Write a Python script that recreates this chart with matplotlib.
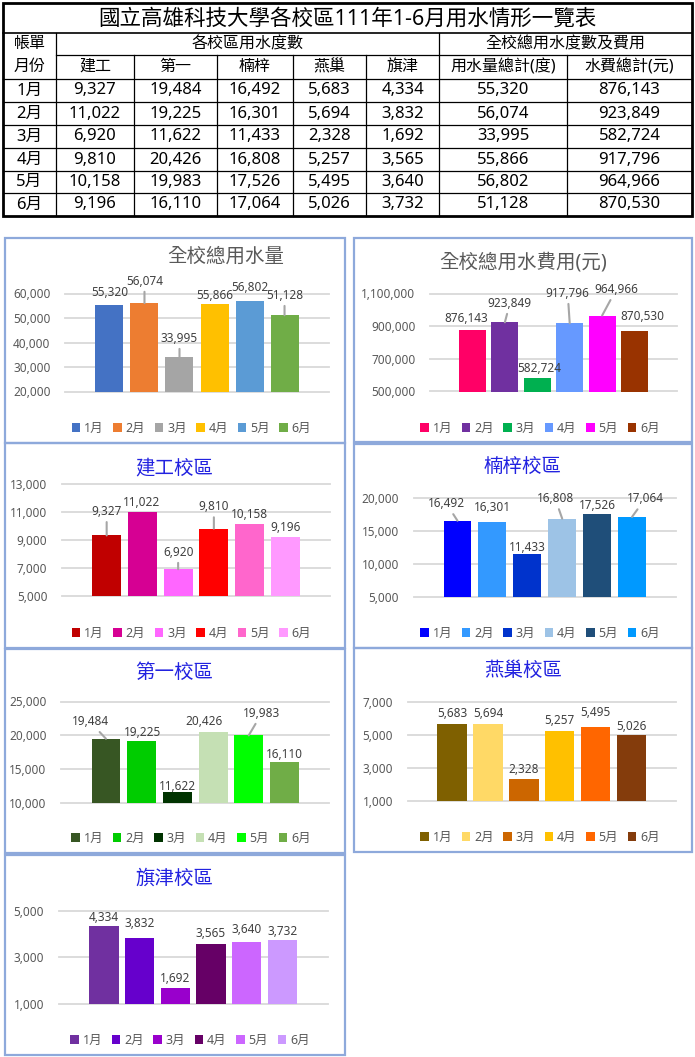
import matplotlib
matplotlib.use('Agg')
import matplotlib.pyplot as plt
from matplotlib.patches import Rectangle
from matplotlib.ticker import FuncFormatter
import numpy as np

plt.rcParams['font.family'] = ['Noto Sans', 'Noto Sans CJK TC', 'DejaVu Sans']

# ---------------- data ----------------
months = ['1月', '2月', '3月', '4月', '5月', '6月']
campuses = ['建工', '第一', '楠梓', '燕巢', '旗津']
jiangong = [9327, 11022, 6920, 9810, 10158, 9196]
diyi = [19484, 19225, 11622, 20426, 19983, 16110]
nanzi = [16492, 16301, 11433, 16808, 17526, 17064]
yanchao = [5683, 5694, 2328, 5257, 5495, 5026]
qijin = [4334, 3832, 1692, 3565, 3640, 3732]
total_water = [55320, 56074, 33995, 55866, 56802, 51128]
total_fee = [876143, 923849, 582724, 917796, 964966, 870530]

table_title = '國立高雄科技大學各校區111年1-6月用水情形一覽表'
hdr_left_top, hdr_left_bot = '帳單', '月份'
hdr_group1 = '各校區用水度數'
hdr_group2 = '全校總用水度數及費用'
hdr_total_water = '用水量總計(度)'
hdr_total_fee = '水費總計(元)'

W, H = 695, 1057
fig = plt.figure(figsize=(W / 100, H / 100), dpi=100)
fig.patch.set_facecolor('white')


def fx(x):
    return x / W


def fy(y):
    return 1 - y / H


# ---------------- table ----------------
bg = fig.add_axes([0, 0, 1, 1])
bg.set_xlim(0, W)
bg.set_ylim(H, 0)
bg.axis('off')

cols = [3, 56, 134, 217, 293, 366, 439, 567, 692]
rows = [3, 33, 55, 79, 102, 125, 148, 171, 193, 216]
lc = 'black'
bg.add_patch(Rectangle((cols[0], rows[0]), cols[-1] - cols[0], rows[-1] - rows[0],
                       fill=False, ec=lc, lw=2))
bg.plot([cols[0], cols[-1]], [rows[1], rows[1]], color=lc, lw=1.2)
bg.plot([cols[1], cols[-1]], [rows[2], rows[2]], color=lc, lw=0.9)
for y in rows[3:-1]:
    bg.plot([cols[0], cols[-1]], [y, y], color=lc, lw=0.9)
for x in [cols[1], cols[6]]:
    bg.plot([x, x], [rows[1], rows[-1]], color=lc, lw=0.9)
for x in [cols[2], cols[3], cols[4], cols[5], cols[7]]:
    bg.plot([x, x], [rows[2], rows[-1]], color=lc, lw=0.9)

tkw = dict(ha='center', va='center', color='black')
bg.text((cols[0] + cols[-1]) / 2, (rows[0] + rows[1]) / 2 + 1, table_title, fontsize=15.5, **tkw)
c0 = (cols[0] + cols[1]) / 2
bg.text(c0, (rows[1] + rows[2]) / 2, hdr_left_top, fontsize=11.5, **tkw)
bg.text(c0, (rows[2] + rows[3]) / 2, hdr_left_bot, fontsize=11.5, **tkw)
bg.text((cols[1] + cols[6]) / 2, (rows[1] + rows[2]) / 2, hdr_group1, fontsize=11.5, **tkw)
bg.text((cols[6] + cols[8]) / 2, (rows[1] + rows[2]) / 2, hdr_group2, fontsize=11.5, **tkw)
sub_headers = campuses + [hdr_total_water, hdr_total_fee]
for j, h in enumerate(sub_headers):
    bg.text((cols[j + 1] + cols[j + 2]) / 2, (rows[2] + rows[3]) / 2, h, fontsize=11.5, **tkw)

table_cols = [jiangong, diyi, nanzi, yanchao, qijin, total_water, total_fee]
for i, m in enumerate(months):
    yc = (rows[3 + i] + rows[4 + i]) / 2
    bg.text(c0, yc, m, fontsize=12, **tkw)
    for j, series in enumerate(table_cols):
        bg.text((cols[j + 1] + cols[j + 2]) / 2, yc, f'{series[i]:,}', fontsize=12, **tkw)

# ---------------- charts ----------------
gray_title = '#595959'
blue_title = '#2222E0'
panels = [
    dict(title='全校總用水量', tcolor=gray_title, tpos=(226, 257), vals=total_water,
         colors=['#4472C4', '#ED7D31', '#A5A5A5', '#FFC000', '#5B9BD5', '#70AD47'],
         ylim=(20000, 60000), step=10000, rect=(65, 293.5, 329, 391.5),
         border=(5, 238, 345, 443), leg=(191.5, 428), hw=3.77, bw=0.8,
         off=[(0, 12), (0, 22), (0, 19), (0, 8), (0, 14), (0, 20)],
         lead=[0, 1, 1, 0, 0, 1]),
    dict(title='全校總用水費用(元)', tcolor=gray_title, tpos=(523, 262), vals=total_fee,
         colors=['#FF0066', '#7030A0', '#00B050', '#6699FF', '#FF00FF', '#993300'],
         ylim=(500000, 1100000), step=200000, rect=(430, 293.5, 677, 391.5),
         border=(354, 238, 692, 442), leg=(540, 428), hw=3.81, bw=0.84,
         off=[(-6, 12), (5, 19), (2, 9), (-2, 30), (14, 26), (8, 14)],
         lead=[0, 1, 0, 1, 1, 0]),
    dict(title='建工校區', tcolor=blue_title, tpos=(174, 468), vals=jiangong,
         colors=['#C00000', '#D60093', '#FF66FF', '#FF0000', '#FF66CC', '#FF99FF'],
         ylim=(5000, 13000), step=2000, rect=(62, 483.8, 330, 596.2),
         border=(5, 443, 345, 648), leg=(191.5, 633.5), hw=3.75, bw=0.81,
         off=[(0, 24), (-1, 9), (0, 17), (0, 22), (0, 9), (0, 10)],
         lead=[1, 0, 1, 1, 0, 0]),
    dict(title='楠梓校區', tcolor=blue_title, tpos=(523, 468), vals=nanzi,
         colors=['#0000FF', '#3399FF', '#0033CC', '#9DC3E6', '#1F4E79', '#0099FF'],
         ylim=(5000, 20000), step=5000, rect=(413.5, 497.5, 676, 596.8),
         border=(354, 444, 692, 648), leg=(540, 633), hw=3.76, bw=0.8,
         off=[(-11, 17), (0, 14), (0, 7), (-7, 20), (0, 8), (13, 18)],
         lead=[1, 0, 0, 1, 0, 1]),
    dict(title='第一校區', tcolor=blue_title, tpos=(174, 673), vals=diyi,
         colors=['#375623', '#00CC00', '#003300', '#C5E0B4', '#00FF00', '#70AD47'],
         ylim=(10000, 25000), step=5000, rect=(61, 701.5, 329.4, 802.8),
         border=(5, 649, 345, 853), leg=(191, 838.5), hw=3.76, bw=0.81,
         off=[(-16, 17), (1, 8), (0, 5), (-9, 11), (13, 22), (0, 7)],
         lead=[1, 0, 0, 0, 1, 0]),
    dict(title='燕巢校區', tcolor=blue_title, tpos=(523, 671), vals=yanchao,
         colors=['#7F6000', '#FFD966', '#CC6600', '#FFC000', '#FF6600', '#843C0C'],
         ylim=(1000, 7000), step=2000, rect=(407.5, 702.2, 676, 801.2),
         border=(354, 648, 692, 852), leg=(540, 837), hw=3.74, bw=0.82,
         off=[(0, 10), (0, 10), (0, 10), (0, 10), (0, 15), (0, 8)],
         lead=[0, 0, 0, 0, 0, 0]),
    dict(title='旗津校區', tcolor=blue_title, tpos=(174, 879), vals=qijin,
         colors=['#7030A0', '#6600CC', '#9900CC', '#660066', '#CC66FF', '#CC99FF'],
         ylim=(1000, 5000), step=2000, rect=(58.5, 910.5, 327.8, 1004.2),
         border=(5, 855, 345, 1055), leg=(190, 1040), hw=3.77, bw=0.82,
         off=[(0, 9), (0, 14), (0, 9), (0, 11), (0, 13), (0, 9)],
         lead=[0, 0, 0, 0, 0, 0]),
]

fmt = FuncFormatter(lambda v, p: f'{int(v):,}')
x = np.arange(len(months))

for p in panels:
    bx0, by0, bx1, by1 = p['border']
    fig.add_artist(Rectangle((fx(bx0), fy(by1)), (bx1 - bx0) / W, (by1 - by0) / H,
                             transform=fig.transFigure, fill=False,
                             ec='#8EA9DB', lw=1.6, zorder=5))
    x0, y0, x1, y1 = p['rect']
    ax = fig.add_axes([fx(x0), fy(y1), (x1 - x0) / W, (y1 - y0) / H])
    ax.patch.set_alpha(0)
    lo, hi = p['ylim']
    ticks = np.arange(lo, hi + 1, p['step'])
    for t in ticks:
        ax.axhline(t, color='#D9D9D9', lw=1.3, zorder=0, clip_on=False)
    bars = ax.bar(x, p['vals'], width=p['bw'], color=p['colors'], zorder=2)
    ax.set_xlim(2.5 - p['hw'], 2.5 + p['hw'])
    ax.set_ylim(lo, hi)
    ax.set_yticks(ticks)
    ax.yaxis.set_major_formatter(fmt)
    ax.tick_params(axis='y', length=0, labelsize=8.5, labelcolor='#595959', pad=10.5)
    ax.set_xticks([])
    for s in ax.spines.values():
        s.set_visible(False)
    for i, v in enumerate(p['vals']):
        dx, dy = p['off'][i]
        kw = dict(textcoords='offset pixels', xytext=(dx, dy), ha='center', va='center',
                  fontsize=8.5, color='#404040', zorder=4, annotation_clip=False)
        if p['lead'][i]:
            kw['arrowprops'] = dict(arrowstyle='-', color='#A6A6A6', lw=1.5,
                                    shrinkA=1, shrinkB=0)
        ax.annotate(f'{v:,}', xy=(x[i], v), **kw)
    tx, ty = p['tpos']
    fig.text(fx(tx), fy(ty), p['title'], ha='center', va='center', fontsize=14,
             color=p['tcolor'])
    lx, ly = p['leg']
    fig.legend(bars, months, loc='center', bbox_to_anchor=(fx(lx), fy(ly)), ncol=6,
               frameon=False, fontsize=9, handlelength=0.7, handleheight=0.7,
               handletextpad=0.3, columnspacing=0.75, labelcolor='#595959',
               borderpad=0, borderaxespad=0)

fig.savefig('out.png', dpi=100, facecolor='white')
